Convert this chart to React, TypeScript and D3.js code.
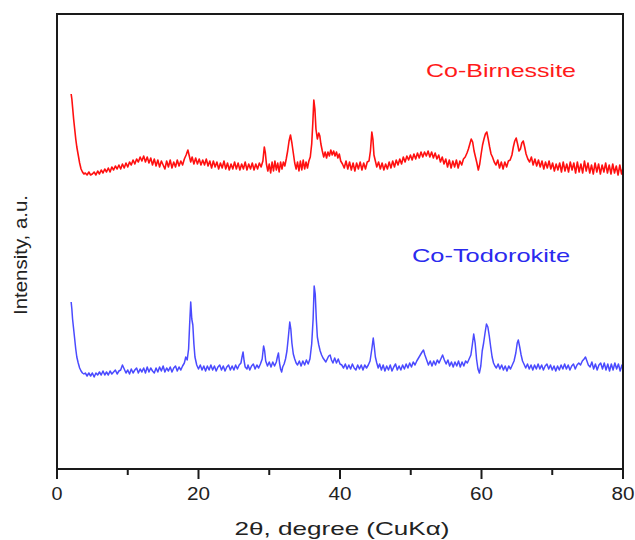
import React from "react";
import * as d3 from "d3";

// 2θ (degree) vs intensity (a.u., stacked)
const birnessite: [number, number][] = [
[2.0,375],[2.1,370],[2.2,362],[2.35,350],[2.5,340],[2.65,330],[2.8,322],[3.0,314],[3.2,306],[3.4,300],[3.6,297],[3.8,295],[4.0,296],[4.25,294],[4.5,297],[4.75,294],[5.0,295],[5.25,297],[5.5,294],[5.75,298],[6.0,295],[6.25,299],[6.5,296],[6.75,300],[7.0,297],[7.25,301],[7.5,297],[7.75,302],[8.0,299],[8.25,303],[8.5,300],[8.75,304],[9.0,300],[9.25,305],[9.5,301],[9.75,306],[10.0,302],[10.25,307],[10.5,304],[10.75,309],[11.0,305],[11.25,310],[11.5,307],[11.75,312],[12.0,308],[12.25,313],[12.5,307],[12.75,312],[13.0,306],[13.25,311],[13.5,304],[13.75,310],[14.0,303],[14.25,309],[14.5,302],[14.75,308],[15.0,304],[15.25,300],[15.5,308],[15.75,302],[16.0,309],[16.25,301],[16.5,307],[16.75,302],[17.0,309],[17.25,303],[17.5,308],[17.75,304],[18.0,310],[18.25,314],[18.5,319],[18.7,313],[18.9,307],[19.1,312],[19.35,305],[19.6,311],[19.85,305],[20.1,310],[20.35,304],[20.6,309],[20.85,304],[21.1,310],[21.35,303],[21.6,308],[21.85,301],[22.1,308],[22.35,302],[22.6,307],[22.85,300],[23.1,306],[23.35,301],[23.6,308],[23.85,300],[24.1,306],[24.35,299],[24.6,305],[24.85,300],[25.1,307],[25.35,300],[25.6,306],[25.85,299],[26.1,305],[26.35,300],[26.6,307],[26.85,299],[27.1,305],[27.35,300],[27.6,306],[27.85,299],[28.1,305],[28.35,300],[28.6,306],[28.85,302],[29.1,308],[29.3,322],[29.45,316],[29.6,305],[29.8,298],[30.0,305],[30.2,296],[30.4,307],[30.6,298],[30.8,308],[31.0,299],[31.2,306],[31.4,297],[31.6,307],[31.8,300],[32.0,307],[32.2,303],[32.4,310],[32.6,318],[32.8,328],[33.0,334],[33.2,326],[33.4,316],[33.6,306],[33.8,300],[34.0,307],[34.2,298],[34.4,308],[34.6,299],[34.8,309],[35.0,300],[35.2,307],[35.4,301],[35.6,308],[35.8,312],[36.0,325],[36.15,345],[36.3,369],[36.45,360],[36.6,340],[36.8,330],[37.0,336],[37.15,333],[37.3,325],[37.5,318],[37.7,312],[37.9,317],[38.1,311],[38.3,317],[38.5,313],[38.7,319],[38.9,314],[39.1,318],[39.3,313],[39.5,317],[39.7,311],[39.9,315],[40.1,308],[40.35,305],[40.6,301],[40.85,308],[41.1,300],[41.35,307],[41.6,299],[41.85,306],[42.1,298],[42.35,306],[42.6,300],[42.85,307],[43.1,299],[43.35,306],[43.6,300],[43.85,307],[44.1,308],[44.3,318],[44.5,337],[44.65,330],[44.8,314],[45.0,308],[45.2,302],[45.45,307],[45.7,300],[45.95,306],[46.2,299],[46.45,305],[46.7,300],[46.95,307],[47.2,301],[47.45,308],[47.7,302],[47.95,309],[48.2,304],[48.45,310],[48.7,305],[48.95,312],[49.2,307],[49.45,313],[49.7,309],[49.95,314],[50.2,309],[50.45,315],[50.7,310],[50.95,316],[51.2,311],[51.45,317],[51.7,312],[51.95,317],[52.2,313],[52.45,318],[52.7,312],[52.95,317],[53.2,311],[53.45,316],[53.7,310],[53.95,314],[54.2,307],[54.45,312],[54.7,305],[54.95,310],[55.2,302],[55.45,309],[55.7,301],[55.95,308],[56.2,302],[56.45,309],[56.7,301],[56.95,308],[57.2,304],[57.45,310],[57.7,312],[57.95,316],[58.15,320],[58.35,325],[58.55,330],[58.75,327],[58.95,318],[59.15,312],[59.35,306],[59.55,299],[59.75,305],[59.95,315],[60.15,324],[60.35,330],[60.55,335],[60.75,337],[60.95,330],[61.15,322],[61.35,315],[61.55,312],[61.8,307],[62.05,304],[62.3,309],[62.55,301],[62.8,307],[63.05,300],[63.3,307],[63.55,302],[63.8,308],[64.05,309],[64.3,314],[64.5,322],[64.7,328],[64.9,331],[65.1,325],[65.3,318],[65.5,320],[65.7,326],[65.9,328],[66.1,322],[66.3,315],[66.55,310],[66.8,307],[67.05,312],[67.3,304],[67.55,310],[67.8,303],[68.05,309],[68.3,302],[68.55,308],[68.8,300],[69.05,307],[69.3,301],[69.55,308],[69.8,300],[70.05,306],[70.3,298],[70.55,305],[70.8,299],[71.05,306],[71.3,297],[71.55,307],[71.8,298],[72.05,305],[72.3,297],[72.55,307],[72.8,299],[73.05,306],[73.3,296],[73.55,307],[73.8,297],[74.05,305],[74.3,296],[74.55,308],[74.8,298],[75.05,306],[75.3,296],[75.55,304],[75.8,295],[76.05,306],[76.3,297],[76.55,305],[76.8,295],[77.05,304],[77.3,297],[77.55,306],[77.8,296],[78.05,304],[78.3,295],[78.55,305],[78.8,296],[79.05,303],[79.3,294],[79.55,304],[79.8,295],[80.0,301]
];

const todorokite: [number, number][] = [
[2.0,167],[2.1,160],[2.2,150],[2.35,140],[2.5,130],[2.65,120],[2.8,112],[3.0,106],[3.2,101],[3.4,98],[3.6,96],[3.8,95],[4.0,96],[4.25,93],[4.5,96],[4.75,93],[5.0,96],[5.25,92],[5.5,96],[5.75,94],[6.0,97],[6.25,94],[6.5,98],[6.75,94],[7.0,97],[7.25,94],[7.5,98],[7.75,95],[8.0,97],[8.25,99],[8.5,95],[8.75,98],[9.0,99],[9.25,104],[9.5,100],[9.75,96],[10.0,99],[10.25,95],[10.5,100],[10.75,96],[11.0,99],[11.25,101],[11.5,96],[11.75,100],[12.0,97],[12.25,101],[12.5,96],[12.75,102],[13.0,97],[13.25,101],[13.5,98],[13.75,96],[14.0,101],[14.25,97],[14.5,102],[14.75,98],[15.0,103],[15.25,97],[15.5,101],[15.75,98],[16.0,102],[16.25,97],[16.5,101],[16.75,103],[17.0,98],[17.25,102],[17.5,99],[17.75,103],[18.0,106],[18.2,112],[18.4,109],[18.6,120],[18.75,145],[18.9,167],[19.05,150],[19.2,144],[19.35,125],[19.5,112],[19.75,104],[20.0,100],[20.25,104],[20.5,99],[20.75,103],[21.0,98],[21.25,103],[21.5,99],[21.75,104],[22.0,99],[22.25,103],[22.5,98],[22.75,102],[23.0,104],[23.25,99],[23.5,103],[23.75,98],[24.0,102],[24.25,104],[24.5,99],[24.75,103],[25.0,99],[25.25,104],[25.5,100],[25.75,104],[26.0,106],[26.15,112],[26.3,117],[26.45,108],[26.6,102],[26.85,100],[27.0,104],[27.25,99],[27.5,103],[27.75,105],[28.0,100],[28.25,104],[28.5,101],[28.75,105],[29.0,110],[29.2,123],[29.35,118],[29.5,108],[29.75,103],[30.0,107],[30.25,102],[30.5,107],[30.75,103],[31.0,107],[31.15,112],[31.3,116],[31.45,106],[31.6,100],[31.75,97],[31.9,102],[32.1,105],[32.3,110],[32.5,118],[32.7,132],[32.9,147],[33.05,140],[33.2,126],[33.4,115],[33.6,110],[33.8,106],[34.0,104],[34.25,108],[34.5,103],[34.75,108],[35.0,104],[35.25,109],[35.5,105],[35.75,110],[36.0,125],[36.2,150],[36.35,183],[36.5,175],[36.65,150],[36.8,132],[37.0,124],[37.2,118],[37.4,114],[37.6,111],[37.8,109],[38.0,107],[38.2,110],[38.4,113],[38.6,114],[38.8,109],[39.0,106],[39.25,111],[39.5,106],[39.75,110],[40.0,105],[40.25,104],[40.5,101],[40.75,105],[41.0,100],[41.25,104],[41.5,100],[41.75,105],[42.0,101],[42.25,99],[42.5,104],[42.75,100],[43.0,104],[43.25,99],[43.5,104],[43.75,101],[44.0,104],[44.25,108],[44.5,120],[44.7,131],[44.85,122],[45.0,112],[45.2,106],[45.4,101],[45.6,105],[45.85,99],[46.1,104],[46.35,98],[46.6,103],[46.85,99],[47.1,104],[47.35,98],[47.6,102],[47.85,105],[48.1,99],[48.35,103],[48.6,99],[48.85,104],[49.1,100],[49.35,105],[49.6,101],[49.85,106],[50.1,102],[50.35,107],[50.6,104],[50.85,108],[51.1,111],[51.35,114],[51.6,117],[51.8,119],[52.0,114],[52.25,109],[52.5,104],[52.75,108],[53.0,103],[53.25,108],[53.5,104],[53.75,109],[54.0,106],[54.25,110],[54.5,114],[54.75,109],[55.0,105],[55.25,109],[55.5,103],[55.75,107],[56.0,102],[56.25,107],[56.5,103],[56.75,108],[57.0,102],[57.25,107],[57.5,103],[57.75,108],[58.0,106],[58.25,110],[58.5,114],[58.7,124],[58.9,135],[59.1,126],[59.3,110],[59.5,100],[59.7,96],[59.9,103],[60.1,118],[60.3,126],[60.5,136],[60.7,145],[60.9,142],[61.1,133],[61.3,122],[61.5,112],[61.7,106],[61.9,103],[62.1,101],[62.35,105],[62.6,100],[62.85,104],[63.1,99],[63.35,103],[63.6,98],[63.85,103],[64.1,100],[64.35,104],[64.6,108],[64.85,116],[65.05,126],[65.2,129],[65.4,122],[65.6,114],[65.8,108],[66.0,105],[66.25,101],[66.5,105],[66.75,100],[67.0,104],[67.25,99],[67.5,104],[67.75,100],[68.0,105],[68.25,100],[68.5,104],[68.75,99],[69.0,103],[69.25,105],[69.5,100],[69.75,104],[70.0,99],[70.25,103],[70.5,98],[70.75,103],[71.0,99],[71.25,104],[71.5,100],[71.75,105],[72.0,100],[72.25,104],[72.5,99],[72.75,103],[73.0,105],[73.25,100],[73.5,104],[73.75,106],[74.0,104],[74.25,108],[74.5,110],[74.7,112],[74.9,108],[75.1,104],[75.35,102],[75.6,107],[75.85,100],[76.1,105],[76.35,99],[76.6,104],[76.85,106],[77.1,100],[77.35,106],[77.6,99],[77.85,105],[78.1,98],[78.35,105],[78.6,99],[78.85,106],[79.1,100],[79.35,105],[79.6,98],[79.85,104],[80.0,99]
];

const majorTicks = [0, 20, 40, 60, 80];
const minorTicks = [10, 30, 50, 70];
const seriesNames = ["Co-Birnessite", "Co-Todorokite"];
const xTitle = "2θ, degree (CuKα)";
const yTitle = "Intensity, a.u.";

const FONT = "'Liberation Sans', Arial, Helvetica, sans-serif";

export default function App() {
  const left = 57, right = 623, top = 14, bottom = 469;
  const x = d3.scaleLinear().domain([0, 80]).range([left, right]);
  const y = d3.scaleLinear().domain([0, 455]).range([bottom, top]);
  const line = d3.line<[number, number]>().x(d => x(d[0])).y(d => y(d[1]));

  return (
    <svg width={635} height={540} style={{ position: "absolute", left: 0, top: 0, background: "#fff" }}>
      <rect x={0} y={0} width={635} height={540} fill="#fff" />
      <path d={line(birnessite) || ""} fill="none" stroke="#ff1010" strokeWidth={1.6} strokeLinejoin="round" />
      <path d={line(todorokite) || ""} fill="none" stroke="#4a4aff" strokeWidth={1.5} strokeLinejoin="round" />
      <rect x={left} y={top} width={right - left} height={bottom - top} fill="none" stroke="#1a1a1a" strokeWidth={2} />
      {majorTicks.map(t => (
        <g key={"M" + t}>
          <line x1={x(t)} x2={x(t)} y1={bottom} y2={bottom + 10} stroke="#1a1a1a" strokeWidth={2} />
          <text x={x(t)} y={500} textAnchor="middle" fontFamily={FONT} fontSize={18} fill="#222"
            textLength={t === 0 ? 11 : 23} lengthAdjust="spacingAndGlyphs">{t}</text>
        </g>
      ))}
      {minorTicks.map(t => (
        <line key={"m" + t} x1={x(t)} x2={x(t)} y1={bottom} y2={bottom + 6} stroke="#1a1a1a" strokeWidth={2} />
      ))}
      <text x={342} y={535} textAnchor="middle" fontFamily={FONT} fontSize={19} fill="#222"
        textLength={215} lengthAdjust="spacingAndGlyphs">{xTitle}</text>
      <text transform="translate(27,255) rotate(-90)" textAnchor="middle" fontFamily={FONT} fontSize={18} fill="#222"
        textLength={120} lengthAdjust="spacingAndGlyphs">{yTitle}</text>
      <text x={426} y={77} fontFamily={FONT} fontSize={19} fill="#ff1a1a"
        textLength={150} lengthAdjust="spacingAndGlyphs">{seriesNames[0]}</text>
      <text x={412} y={262} fontFamily={FONT} fontSize={19} fill="#2a2aee"
        textLength={158} lengthAdjust="spacingAndGlyphs">{seriesNames[1]}</text>
    </svg>
  );
}
